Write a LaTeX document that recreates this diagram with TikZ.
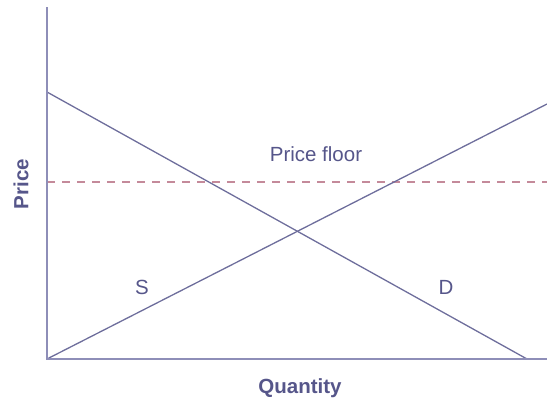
\documentclass[tikz,border=0pt]{standalone}
\usepackage{fontspec}
\setmainfont{Liberation Sans}
\definecolor{axiscol}{HTML}{8E8EB8}
\definecolor{curvecol}{HTML}{6E6E9C}
\definecolor{txtcol}{HTML}{56568A}
\definecolor{floorcol}{HTML}{C48A9A}
\tikzset{
  axisline/.style={draw=axiscol, line width=1.6pt},
  curveline/.style={draw=curvecol, line width=1.3pt},
  floorline/.style={draw=floorcol, line width=1.2pt, dash pattern=on 8pt off 7pt},
  lbl/.style={text=txtcol, font=\fontsize{20.5}{24}\selectfont, inner sep=0pt},
  axlbl/.style={text=txtcol, font=\fontsize{20.5}{24}\selectfont\bfseries, inner sep=0pt}
}
\begin{document}
\begin{tikzpicture}[x=1pt,y=-1pt]
\useasboundingbox (0,0) rectangle (547,402);
\coordinate (O) at (47,359);
\coordinate (Ytop) at (47,7);
\coordinate (Xend) at (547,359);
\coordinate (Dtop) at (47,92);
\coordinate (Dbot) at (527,359);
\coordinate (Stop) at (547,104);
\coordinate (Fl) at (47,182);
\coordinate (Fr) at (547,182);
\draw[floorline] (Fl) -- (Fr);
\draw[curveline] (Dtop) -- (Dbot);
\draw[curveline] (O) -- (Stop);
\draw[axisline] (Ytop) -- (O) -- (Xend);
\node[lbl] (pf) at (316,154) {Price floor};
\node[lbl] (s) at (142,287) {S};
\node[lbl] (d) at (446,287) {D};
\node[axlbl] (q) at (300,388) {Quantity};
\node[axlbl, rotate=90] (p) at (21,184) {Price};
\end{tikzpicture}
\end{document}
